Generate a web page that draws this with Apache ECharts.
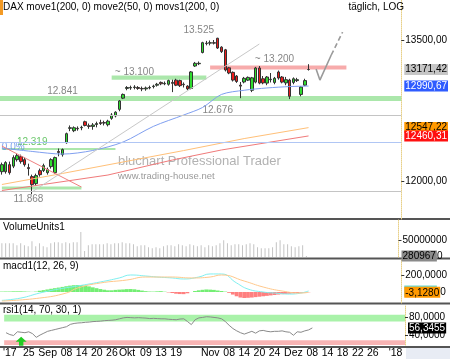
<!DOCTYPE html>
<html><head><meta charset="utf-8">
<script src="https://cdn.jsdelivr.net/npm/echarts@6/dist/echarts.min.js"></script>
<style>html,body{margin:0;padding:0;background:#fff}#c{width:450px;height:359px}</style>
</head><body><div id="c"></div>
<script>
const FONT = '"Liberation Sans", Arial, sans-serif';

// ---- categories: trading days (Aug 17 - Dec 8 2017) then calendar days to Jan 3 2018
const categories = ['08-17','08-18','08-21','08-22','08-23','08-24','08-25','08-28','08-29','08-30','08-31',
'09-01','09-04','09-05','09-06','09-07','09-08','09-11','09-12','09-13','09-14','09-15','09-18','09-19','09-20','09-21','09-22','09-25','09-26','09-27','09-28','09-29',
'10-02','10-03','10-04','10-05','10-06','10-09','10-10','10-11','10-12','10-13','10-16','10-17','10-18','10-19','10-20','10-23','10-24','10-25','10-26','10-27','10-30','10-31',
'11-01','11-02','11-03','11-06','11-07','11-08','11-09','11-10','11-13','11-14','11-15','11-16','11-17','11-20','11-21','11-22','11-23','11-24','11-27','11-28','11-29','11-30',
'12-01','12-04','12-05','12-06','12-07','12-08',
'12-11','12-12','12-13','12-14','12-15','12-16','12-17','12-18','12-19','12-20','12-21','12-22','12-23','12-24','12-25','12-26','12-27','12-28','12-29','12-30','12-31',
'01-01','01-02','01-03'];

const tickLabels = {'08-18':"'17",'08-25':'25','09-01':'Sep','09-08':'08','09-14':'14','09-20':'20','09-26':'26',
'10-02':'Okt','10-09':'09','10-13':'13','10-19':'19','11-01':'Nov','11-08':'08','11-14':'14','11-20':'20','11-24':'24',
'12-01':'Dez','12-08':'08','12-14':'14','12-18':'18','12-22':'22','12-26':'26','01-01':"'18"};

// ---- DAX daily candles
const open  = [12094,12094,12165,12150,12216,12247,12216,12135,12044,11974,12104,12105,12084,12145,12084,12300,12267,12390,12540,12515,12540,12546,12609,12567,12560,12580,12600,12600,12578,12645,12670,12740,12860,12965,12970,12975,12975,12965,12960,12970,12985,13000,13030,13015,13010,13030,13055,13050,13010,12990,12965,13210,13235,13360,13460,13465,13470,13520,13420,13390,13190,13140,13100,13000,13035,13055,12945,13034,13188,13070,13023,13060,13030,13144,13089,13025,13056,13030,13050,12900,13000,13171.42];
const close = [12165,12186,12084,12237,12257,12196,12165,12125,11964,12054,12064,12155,12115,12216,12237,12290,12319,12484,12546,12546,12535,12550,12570,12560,12575,12590,12590,12595,12615,12680,12710,12830,12900,12975,12975,12980,12965,12960,12970,12975,12990,13010,13015,13020,13050,13020,13000,12995,13005,12960,13145,13240,13240,13470,13465,13470,13465,13410,13370,13166,13133,13056,13040,12990,13075,13085,13080,13188,13023,13025,13089,13065,13075,13078,13034,13060,12880,13070,13060,12980,13050,13171.42];
const low   = [12064,12074,12064,12130,12196,12175,12145,12054,11868,11954,12044,12090,12064,12125,12074,12250,12247,12380,12510,12500,12515,12520,12560,12535,12525,12550,12575,12570,12560,12630,12655,12720,12850,12945,12950,12955,12950,12935,12940,12955,12965,12985,13000,13000,12995,12925,12990,12980,12975,12945,12955,13200,13220,13350,13440,13440,13450,13400,13355,13150,13120,13040,13025,12860,13020,13045,12925,13020,13010,13010,13000,13030,13010,13060,13020,13000,12850,13010,13035,12880,12990,13160];
const high  = [12186,12200,12196,12260,12280,12267,12237,12175,12064,12074,12125,12175,12135,12230,12247,12330,12330,12495,12570,12560,12560,12567,12620,12590,12595,12610,12630,12620,12630,12700,12720,12840,12910,12990,12995,13000,12990,12985,12985,12995,13005,13025,13040,13040,13060,13060,13070,13060,13030,13000,13155,13255,13260,13480,13490,13495,13500,13525,13430,13400,13200,13150,13110,13035,13090,13095,13090,13200,13210,13100,13100,13133,13090,13160,13100,13090,13070,13085,13080,12990,13070,13230];

// ---- moving averages, sampled [categoryIndex, value]
const ma50    = [[0,12335],[8,12300],[16,12273],[24,12310],[32,12397],[40,12560],[48,12680],[53,12760],[58,12900],[64,12945],[70,12970],[76,12985],[81,12990.67]];
const ma200   = [[0,11965],[16,12076],[32,12192],[48,12309],[64,12433],[81,12547.22]];
const movs200 = [[0,11905],[28,12060],[45,12212],[58,12315],[81,12460.31]];

// ---- drawn trend lines [categoryIndex, value]
const trendDown = [[0,12355],[21,11940]];
const trendUp   = [[8,11892],[68,13455]];
const projSolid = [[83,13177],[84,13056],[87,13332]];
const projDash  = [[87,13332],[90,13590]];

// ---- levels
const greenBands = [[null,null,12829,12883],[29,54,13060,13105],[0,30,12314,12335],[0,21,11915,11945]];
const redBands   = [[55,91,13171,13216]];
const grayLines  = [12676,11895];
const fibLine    = 12397;
const annotations = [
  ['13.525',52,13613,'#666'],['~ 13.100',35,13144,'#666'],['12.841',16,12937,'#666'],['12.676',57,12733,'#666'],
  ['~ 13.200',72,13287,'#666'],['12.319',8,12397,'#44b844'],['0.0%',3,12346,'#5a8ae8'],['11.868',7,11821,'#666']];

// ---- last values shown in boxes on the right
const lastPrice = 13171.42, lastMa50 = 12990.67, lastMa200 = 12547.22, lastMovs = 12460.31;
const lastVolumeM = 2.80967, lastMacd = 12, lastSignal = -3.128, lastRsi = 56.3455;

// ---- volume (millions)
const volumeM = [41,41,41,41,35,41,35,32,47,32,41,32,29,41,44,44,41,44,41,44,44,74,18,35,38,38,38,38,41,38,41,41,44,41,41,38,32,35,35,29,26,29,26,32,35,35,32,38,35,32,38,35,32,35,29,35,32,35,41,50,41,35,38,38,35,38,41,38,29,26,26,26,29,44,50,38,38,32,29,32,35,2.80967];

// ---- MACD
const macdHist = [5,6,6,8,8,8,6,4,2,5,15,22,30,38,45,52,60,68,75,80,82,80,75,66,55,45,35,27,20,20,25,28,30,34,35,32,25,17,10,6,5,8,10,4,-5,-12,-20,-24,-25,-15,0,12,20,26,30,28,25,18,12,5,-10,-30,-50,-65,-70,-68,-65,-60,-55,-50,-45,-40,-35,-30,-25,-22,-20,-16,-12,-8,-5,-3];
const macdLine   = [[0,-98],[5,-71],[10,-12],[15,35],[20,71],[26,118],[31,165],[34,200],[38,188],[41,176],[45,165],[48,153],[52,176],[55,212],[58,212],[62,106],[65,35],[69,0],[72,-12],[76,-24],[79,-12],[81,12]];
const signalLine = [[0,-106],[10,-71],[17,-12],[20,47],[26,106],[33,141],[38,176],[45,176],[50,165],[55,176],[58,200],[64,129],[69,59],[74,12],[79,-12],[81,-3.128]];

// ---- RSI
const rsi = [46,42,40,48,47,46,48,44,36,41,45,49,51,53,55,57,59,64,66,67,67.5,68.5,69,70,70.5,71,72,72.5,73,74,76,78,79,78.5,78,78.5,78,77.5,76.5,77,76.5,76,76,75,74.5,74,75.5,76,70,63.5,74,78,79,80.5,80,79,78,76,70,62,55,50,46,43,46,49,45,50,51,49,48,49,49,50,48,47,40.5,48,47,50,52,56.3455];

// ---- axis tick labels
const priceTicks = [12000,13500];
const volTicks = [50];
const macdTicks = [200];
const rsiTicks = [80,40];

const ohlc = open.map((o,i)=>[o, close[i], low[i], high[i]]);
const fmt = (v,d)=>Number(v).toFixed(d).replace('.',',');
const HIDDEN = {color:'rgba(0,0,0,0)', width:0};

function boxLabel(text, bg, fg, rich){
  const l = {show:true, position:'end', distance:3, formatter:text, fontSize:10, fontFamily:FONT, opacity:1};
  if (rich) { l.color = '#000'; l.rich = {a:{backgroundColor:bg, color:fg, fontSize:10, fontFamily:FONT, padding:[1,1,0,1]}}; }
  else { l.backgroundColor = bg; l.color = fg; l.padding = [1,1,0,1]; }
  return l;
}
function valueBox(series, value, text, bg, fg, rich){
  series.markLine = {silent:true, symbol:'none', animation:false,
    lineStyle:HIDDEN, data:[{yAxis:value, lineStyle:HIDDEN, label:boxLabel(text,bg,fg,rich)}]};
  return series;
}

const grids = [
  {left:0, width:405, top:0, height:219},
  {left:0, width:405, top:220, height:37},
  {left:0, width:405, top:260, height:43},
  {left:0, width:405, top:305, height:41}
];
const xAxes = grids.map((g,i)=>({type:'category', gridIndex:i, data:categories, boundaryGap:true,
  axisLine:{show:false}, axisTick:{show:false},
  axisLabel: i===3 ? {show:true, interval:(idx,val)=>tickLabels[val]!==undefined,
     formatter:(val)=>tickLabels[val]||'', fontSize:10.5, fontFamily:FONT, color:'#000', margin:3} : {show:false},
  splitLine:{show:false}}));
const axisLineStyle = {show:true, lineStyle:{color:'#e8d088', type:'dotted', width:1}};
function yax(i, extra, ticks, f){
  return Object.assign({gridIndex:i, position:'right', axisLine:axisLineStyle,
    axisTick:{show:true, customValues:ticks, length:3, lineStyle:{color:'#333'}},
    axisLabel:{show:true, customValues:ticks, formatter:f, fontSize:10, fontFamily:FONT, color:'#000', margin:4},
    splitLine:{show:false}}, extra);
}
const yAxes = [
  yax(0, {type:'log', min:11625, max:13959, logBase:10}, priceTicks, v=>fmt(v,2)),
  yax(1, {type:'value', min:0, max:110}, volTicks, v=>String(Math.round(v*1e6))),
  yax(2, {type:'value', min:-129, max:376}, macdTicks, v=>fmt(v,4)),
  yax(3, {type:'value', min:19.5, max:105.8}, rsiTicks, v=>fmt(v,4))
];

const markAreaData = [];
greenBands.forEach(b=>{
  const s = b[0]===null ? {yAxis:b[2]} : {xAxis:b[0], yAxis:b[2]};
  const e = b[0]===null ? {yAxis:b[3]} : {xAxis:b[1], yAxis:b[3]};
  s.itemStyle = {color:'rgba(150,225,150,0.8)'};
  markAreaData.push([s,e]);
});
redBands.forEach(b=>{
  markAreaData.push([{xAxis:b[0], yAxis:b[2], itemStyle:{color:'rgba(245,150,150,0.8)'}},{xAxis:b[1], yAxis:b[3]}]);
});

const lineS = (data, color, extra)=>Object.assign({type:'line', xAxisIndex:0, yAxisIndex:0, data, showSymbol:false,
  symbol:'none', lineStyle:{color, width:1}, silent:true, animation:false}, extra||{});

const series = [
  {type:'line', xAxisIndex:0, yAxisIndex:0, data:[], silent:true, markArea:{silent:true, data:markAreaData},
   markLine:{silent:true, symbol:'none', label:{show:false},
     data:[...grayLines.map(v=>({yAxis:v, lineStyle:{color:'#c4c4c4', type:'solid', width:1}})),
           {yAxis:fibLine, lineStyle:{color:'#b0c6f4', type:'solid', width:1}}]}},
  valueBox(lineS(ma200,'#ffc078'), lastMa200, fmt(lastMa200,2), '#ff9900', '#000'),
  valueBox(lineS(movs200,'#f07a7a'), lastMovs, fmt(lastMovs,2), '#ff1010', '#fff'),
  valueBox(lineS(ma50,'#7f9ff0',{smooth:0.3}), lastMa50, fmt(lastMa50,2), '#2f5cff', '#fff'),
  lineS(trendDown,'#f08080'),
  lineS(trendUp,'#c8c8c8'),
  lineS(projSolid,'#9a9a9a',{lineStyle:{color:'#9a9a9a', width:1.6}}),
  lineS(projDash,'#9a9a9a',{lineStyle:{color:'#9a9a9a', width:1.6, type:[5,3]}}),
  valueBox({type:'candlestick', xAxisIndex:0, yAxisIndex:0, data:ohlc, barWidth:3, silent:true,
   itemStyle:{color:'#2fdc2f', color0:'#ee1c1c', borderColor:'#333', borderColor0:'#333', borderWidth:1}},
   lastPrice, fmt(lastPrice,2), '#c6c6c6', '#000'),
  {type:'scatter', xAxisIndex:0, yAxisIndex:0, symbolSize:0, silent:true,
   data:annotations.map(a=>({name:a[0], value:[a[1],a[2]], label:{color:a[3]}})),
   label:{show:true, position:'inside', formatter:p=>p.name, fontSize:10, fontFamily:FONT}},
  valueBox({type:'bar', xAxisIndex:1, yAxisIndex:1, data:volumeM, barWidth:1, silent:true, itemStyle:{color:'#c4c4c4'}},
   lastVolumeM, '{a|280967}0', '#8a8a8a', '#000', true),
  {type:'bar', xAxisIndex:2, yAxisIndex:2, data:macdHist, barCategoryGap:'0%', silent:true,
   itemStyle:{color:p=>p.value>=0?'#74ee74':'#ff8080'}},
  valueBox({type:'line', xAxisIndex:2, yAxisIndex:2, data:macdLine, smooth:0.5, symbol:'none', silent:true,
   lineStyle:{color:'#7ff0f0', width:1}}, lastMacd, '00,000', '#6fd8cf', '#6fd8cf'),
  valueBox({type:'line', xAxisIndex:2, yAxisIndex:2, data:signalLine, smooth:0.5, symbol:'none', silent:true,
   lineStyle:{color:'#ffc88c', width:1}}, lastSignal, '{a|' + fmt(lastSignal,4) + '}0', '#ff9900', '#000', true),
  valueBox({type:'line', xAxisIndex:3, yAxisIndex:3, data:rsi, symbol:'none', silent:true, lineStyle:{color:'#8a8a8a', width:1},
   markArea:{silent:true, data:[[{yAxis:70, itemStyle:{color:'#a9f2a9'}},{yAxis:85}],[{yAxis:19.5, itemStyle:{color:'#f8b4b4'}},{yAxis:30}]]},
   markPoint:{silent:true, symbol:'path://M5,0 L10,5 L7,5 L7,9 L3,9 L3,5 L0,5 Z', symbolSize:[11,9],
     itemStyle:{color:'#22cc22'}, label:{show:false}, data:[{coord:[4,27.5]}]}},
   lastRsi, fmt(lastRsi,4), '#000', '#fff')
];

const titleStyle = {fontSize:10, fontWeight:'normal', color:'#000', fontFamily:FONT};
const option = {
  animation:false,
  backgroundColor:'#fff',
  textStyle:{fontFamily:FONT},
  title:[
    {text:'DAX move1(200, 0) move2(50, 0) movs1(200, 0)', left:3, top:2, padding:0, textStyle:titleStyle},
    {text:'täglich, LOG', right:46, top:2, padding:0, textStyle:titleStyle},
    {text:'VolumeUnits1', left:3, top:222, padding:0, textStyle:titleStyle},
    {text:'macd1(12, 26, 9)', left:3, top:261, padding:0, textStyle:titleStyle},
    {text:'rsi1(14, 70, 30, 1)', left:3, top:305, padding:0, textStyle:titleStyle}
  ],
  grid:grids, xAxis:xAxes, yAxis:yAxes, series,
  graphic:[
    {type:'rect', shape:{x:0,y:0,width:3,height:15}, style:{fill:'#f39a25'}},
    {type:'text', left:118, top:155, style:{text:'bluchart Professional Trader', fill:'#b2b2b2', font:'13px "Liberation Sans", Arial'}},
    {type:'text', left:118, top:171, style:{text:'www.trading-house.net', fill:'#9a9a9a', font:'9.5px "Liberation Sans", Arial'}},
    {type:'rect', shape:{x:0,y:218,width:450,height:2}, style:{fill:'#555'}},
    {type:'rect', shape:{x:0,y:257.5,width:450,height:2}, style:{fill:'#555'}},
    {type:'rect', shape:{x:0,y:302.5,width:450,height:2}, style:{fill:'#555'}},
    {type:'rect', shape:{x:0,y:346,width:450,height:2}, style:{fill:'#555'}},
    {type:'rect', shape:{x:406,y:348,width:44,height:11}, style:{fill:'#e8ecf4'}}
  ]
};
const chart = echarts.init(document.getElementById('c'), null, {renderer:'canvas'});
chart.setOption(option);
</script></body></html>
